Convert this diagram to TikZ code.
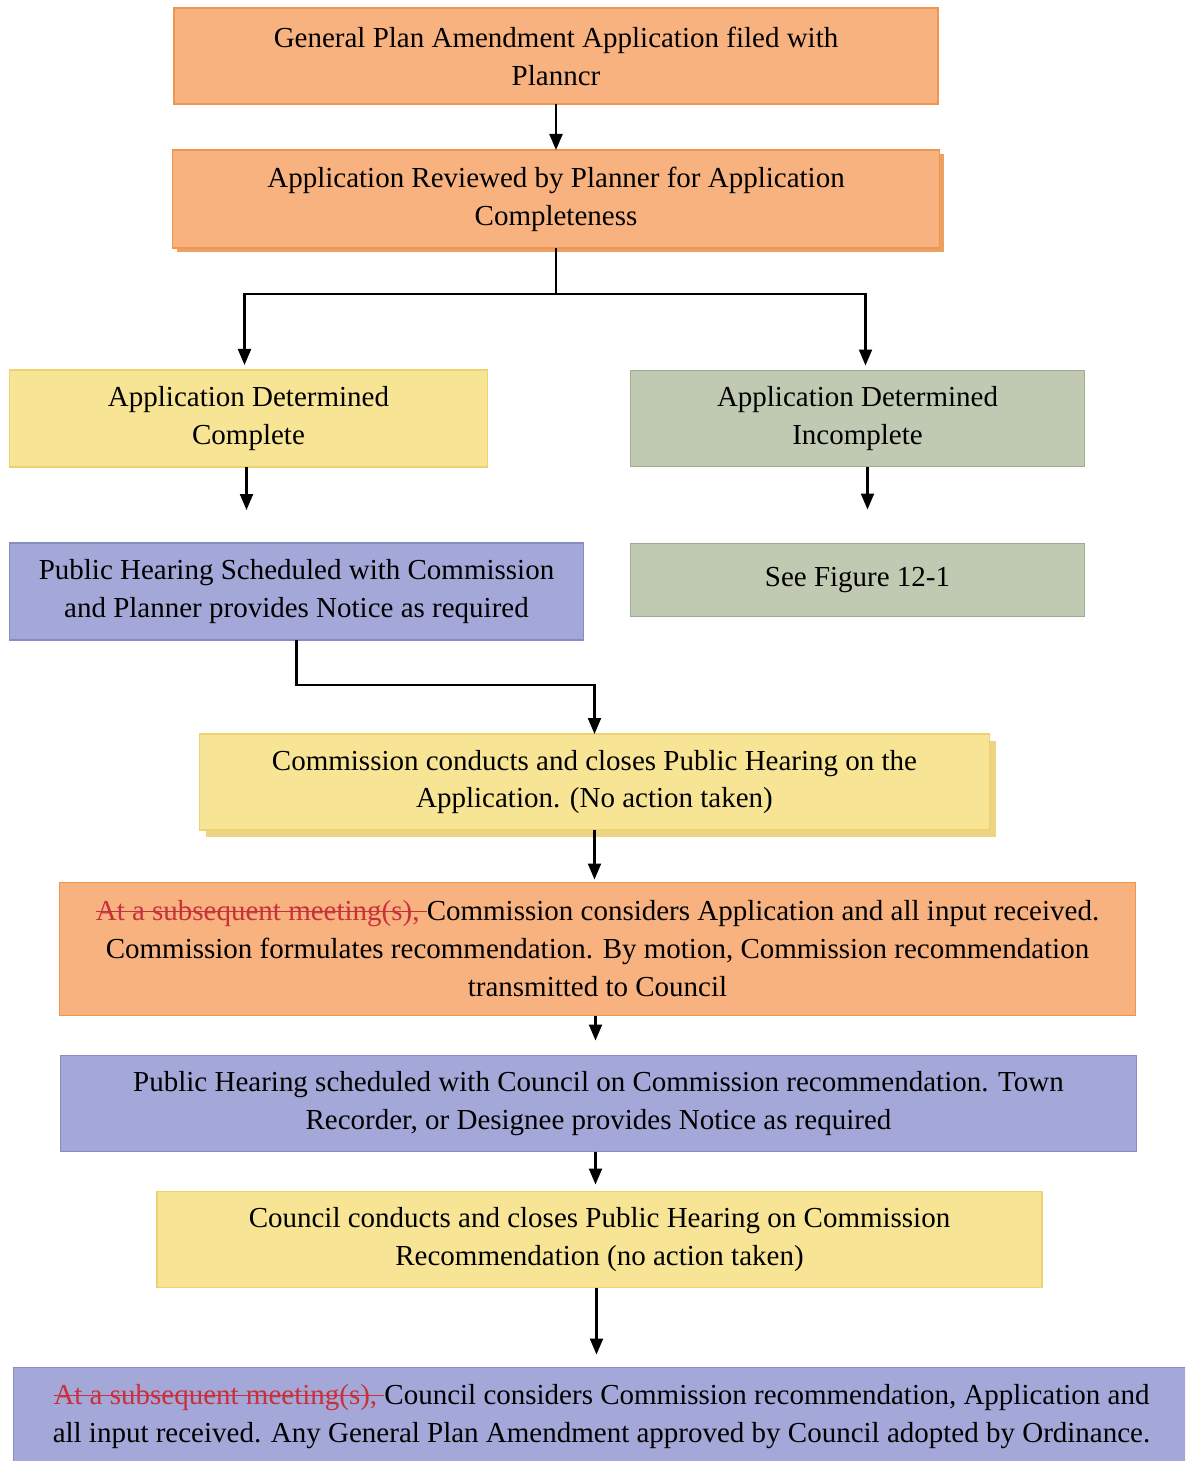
\documentclass[tikz,border=0pt]{standalone}
\usepackage{fontspec}
\setmainfont{Liberation Serif}
\usetikzlibrary{arrows.meta,positioning,shadows}

\definecolor{peach}{RGB}{247,178,128}
\definecolor{peachline}{RGB}{238,150,80}
\definecolor{peachshade}{RGB}{238,160,100}
\definecolor{straw}{RGB}{247,228,148}
\definecolor{strawline}{RGB}{236,210,112}
\definecolor{strawshade}{RGB}{236,212,130}
\definecolor{sage}{RGB}{192,201,178}
\definecolor{sageline}{RGB}{160,172,145}
\definecolor{lavender}{RGB}{164,168,216}
\definecolor{lavenderline}{RGB}{135,140,196}
\definecolor{strikered}{RGB}{200,48,60}

% struck-through red words
\newcommand{\struck}[1]{{\color{strikered}\setbox0\hbox{#1}%
    \rlap{\rule[0.3em]{\wd0}{0.7pt}}\box0}}

\begin{document}
\begin{tikzpicture}[
    node distance = 0.92cm,
    every node/.style={font=\fontsize{16.5}{21.6}\selectfont},
    box/.style={
        draw,
        align=center,
        line width=0.6pt,
        inner sep=4pt,
        outer sep=0pt
    },
    orangebox/.style={box, fill=peach, draw=peachline},
    yellowbox/.style={box, fill=straw, draw=strawline},
    greenbox/.style={box, fill=sage, draw=sageline},
    bluebox/.style={box, fill=lavender, draw=lavenderline},
    shadowed/.style={drop shadow={shadow xshift=#1, shadow yshift=-#1,
        fill=peachshade, opacity=1}},
    yshadowed/.style={drop shadow={shadow xshift=#1, shadow yshift=-#1,
        fill=strawshade, opacity=1}},
    arrow/.style={-{Triangle[length=0.32cm,width=0.26cm]}, line width=1.2pt}
]

\clip (0,0) rectangle (23.7,-29.22);

% Filing and review
\node[orangebox, minimum width=15.28cm, minimum height=1.92cm] (filed) at (11.12,-1.12)
    {General Plan Amendment Application filed with\\Planncr};
\node[orangebox, shadowed=0.09cm, minimum width=15.34cm, minimum height=1.96cm,
      below=0.92cm of filed] (review)
    {Application Reviewed by Planner for Application\\Completeness};

% Completeness decision
\node[yellowbox, minimum width=9.56cm, minimum height=1.94cm,
      below=2.44cm of review, xshift=-6.15cm] (complete)
    {Application Determined\\Complete};
\node[greenbox, minimum width=9.08cm, minimum height=1.92cm,
      right=2.86cm of complete] (incomplete)
    {Application Determined\\Incomplete};

\node[bluebox, minimum width=11.48cm, minimum height=1.94cm,
      below=1.52cm of complete, xshift=0.96cm] (noticeC)
    {Public Hearing Scheduled with Commission\\and Planner provides Notice as required};
\node[greenbox, minimum width=9.08cm, minimum height=1.46cm,
      below=1.54cm of incomplete, anchor=north] (figref)
    {See Figure 12-1};

% Commission
\node[yellowbox, yshadowed=0.13cm, minimum width=15.8cm, minimum height=1.92cm,
      below=1.88cm of noticeC, xshift=5.96cm] (hearingC)
    {Commission conducts and closes Public Hearing on the\\Application. (No action taken)};
\node[orangebox, minimum width=21.52cm, minimum height=2.66cm,
      below=1.05cm of hearingC, xshift=0.06cm] (recommend)
    {\struck{At a subsequent meeting(s), }Commission considers Application and all input received.\\
     Commission formulates recommendation. By motion, Commission recommendation\\
     transmitted to Council};

% Council
\node[bluebox, minimum width=21.52cm, minimum height=1.92cm,
      below=0.8cm of recommend, xshift=0.02cm] (noticeT)
    {Public Hearing scheduled with Council on Commission recommendation. Town\\
     Recorder, or Designee provides Notice as required};
\node[yellowbox, minimum width=17.7cm, minimum height=1.92cm,
      below=0.8cm of noticeT, xshift=0.02cm] (hearingT)
    {Council conducts and closes Public Hearing on Commission\\
     Recommendation (no action taken)};
\node[bluebox, minimum width=23.52cm, minimum height=1.98cm,
      below=1.6cm of hearingT, xshift=0.04cm] (adopt)
    {\struck{At a subsequent meeting(s), }Council considers Commission recommendation, Application and\\
     all input received. Any General Plan Amendment approved by Council adopted by Ordinance.};

% Arrows
\draw[arrow] (filed.south) -- (filed.south |- review.north);

\draw[line width=1.2pt] (review.south) -- ++(0,-0.92) coordinate (fork);
\draw[arrow, shorten >=0.1cm] (fork) -| ([xshift=-0.08cm]complete.north);
\draw[arrow, shorten >=0.1cm] (fork) -| ([xshift=0.16cm]incomplete.north);

\draw[arrow, shorten >=0.66cm] ([xshift=-0.04cm]complete.south)
    -- ([xshift=-0.04cm]complete.south |- noticeC.north);
\draw[arrow, shorten >=0.68cm] ([xshift=0.2cm]incomplete.south)
    -- ([xshift=0.2cm]incomplete.south |- figref.north);

\draw[arrow] (noticeC.south) -- ++(0,-0.9) -| (hearingC.north);
\draw[arrow, shorten >=0.06cm] (hearingC.south) -- (hearingC.south |- recommend.north);
\draw[arrow, shorten >=0.3cm] ([xshift=-0.04cm]recommend.south)
    -- ([xshift=-0.04cm]recommend.south |- noticeT.north);
\draw[arrow, shorten >=0.14cm] ([xshift=-0.06cm]noticeT.south)
    -- ([xshift=-0.06cm]noticeT.south |- hearingT.north);
\draw[arrow, shorten >=0.26cm] ([xshift=-0.06cm]hearingT.south)
    -- ([xshift=-0.06cm]hearingT.south |- adopt.north);

\end{tikzpicture}
\end{document}
